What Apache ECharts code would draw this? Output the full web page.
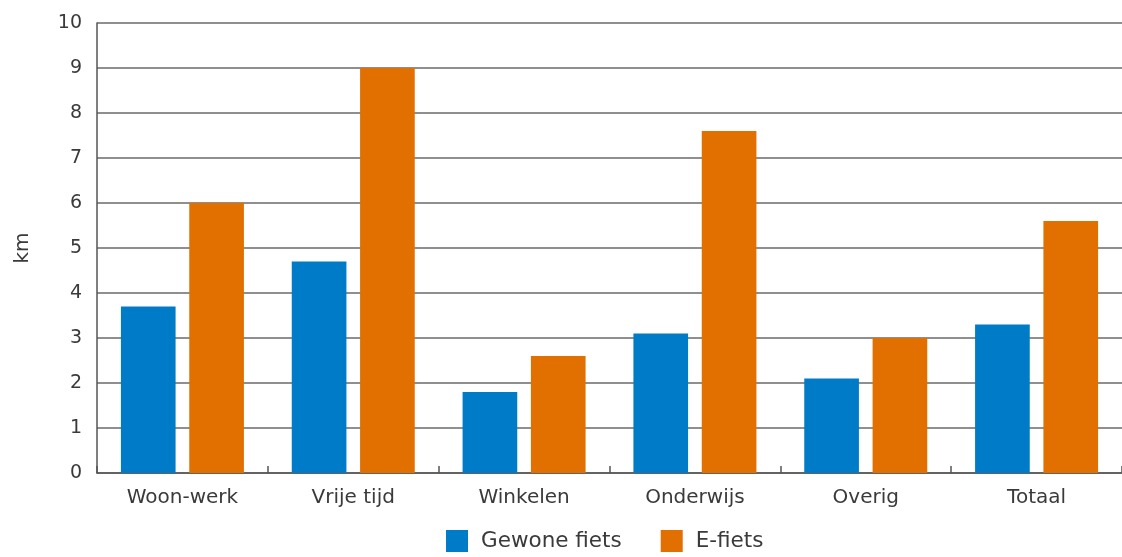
<!DOCTYPE html>
<html>
<head>
<meta charset="utf-8">
<script src="https://cdn.jsdelivr.net/npm/echarts@6/dist/echarts.min.js"></script>
<style>
  html, body { margin: 0; padding: 0; background: #ffffff; }
  #chart { width: 1122px; height: 557px; }
</style>
</head>
<body>
<div id="chart"></div>
<script>
// Average trip distance per motive, regular bike vs e-bike (km)
const categories = ['Woon-werk', 'Vrije tijd', 'Winkelen', 'Onderwijs', 'Overig', 'Totaal'];
const gewoneFiets = [3.7, 4.7, 1.8, 3.1, 2.1, 3.3];
const eFiets = [6.0, 9.0, 2.6, 7.6, 3.0, 5.6];
const seriesNames = ['Gewone fiets', 'E-fiets'];
const yTicks = { min: 0, max: 10, interval: 1 };

const fontFamily = '"DejaVu Sans", "Open Sans", sans-serif';
const textColor = '#3a3a3a';

const chart = echarts.init(document.getElementById('chart'), null, { renderer: 'canvas' });

chart.setOption({
  animation: false,
  backgroundColor: '#ffffff',
  grid: { left: 97, right: 0, top: 23, bottom: 84, containLabel: false },
  legend: {
    data: seriesNames,
    bottom: 0,
    left: 441,
    itemWidth: 22,
    itemHeight: 22,
    itemGap: 39,
    icon: 'rect',
    textStyle: { fontFamily, fontSize: 21.5, color: textColor, padding: [0, 0, 0, 8] }
  },
  xAxis: {
    type: 'category',
    data: categories,
    axisLine: { show: true, lineStyle: { color: '#555555', width: 1.5 } },
    axisTick: { show: true, inside: true, length: 7, lineStyle: { color: '#555555', width: 1.5 } },
    axisLabel: { fontFamily, fontSize: 20, color: textColor, margin: 15 }
  },
  yAxis: {
    type: 'value',
    min: yTicks.min,
    max: yTicks.max,
    interval: yTicks.interval,
    name: 'km',
    nameLocation: 'middle',
    nameRotate: 90,
    nameGap: 64,
    nameTextStyle: { fontFamily, fontSize: 20, color: textColor },
    axisLine: { show: true, lineStyle: { color: '#555555', width: 1.5 } },
    axisTick: { show: false },
    axisLabel: { fontFamily, fontSize: 19, color: textColor, margin: 15 },
    splitLine: { show: true, lineStyle: { color: '#6a6a6a', width: 1.5 } }
  },
  series: [
    {
      name: seriesNames[0],
      type: 'bar',
      data: gewoneFiets,
      barWidth: '32%',
      barGap: '25%',
      itemStyle: { color: '#007bc7' }
    },
    {
      name: seriesNames[1],
      type: 'bar',
      data: eFiets,
      barWidth: '32%',
      itemStyle: { color: '#e17000' }
    }
  ]
});
</script>
</body>
</html>
